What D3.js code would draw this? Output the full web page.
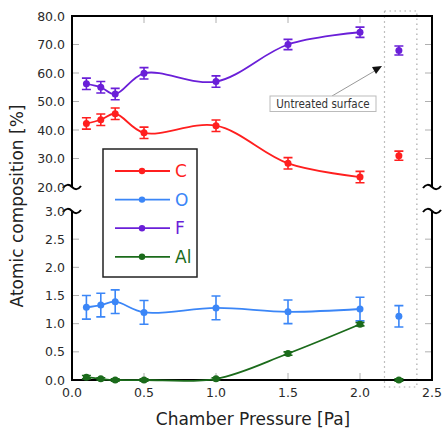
<!DOCTYPE html>
<html><head><meta charset="utf-8">
<script src="https://cdn.jsdelivr.net/npm/d3@7"></script>
<style>body{margin:0;background:#fff}svg{display:block}</style>
</head><body><svg id="c" width="447" height="432"></svg>
<script>
const pressures = [0.1, 0.2, 0.3, 0.5, 1.0, 1.5, 2.0];
const untreatedX = 2.27;
const C  = [42.3, 43.6, 45.7, 39.0, 41.5, 28.3, 23.5];
const Cerr = [2, 2, 2, 2, 2, 2, 2];
const Cun = 31.0, CunErr = 1.6;
const F  = [56.2, 55.0, 52.6, 59.9, 57.0, 70.0, 74.3];
const Ferr = [2, 2, 2, 2, 2, 1.8, 1.8];
const Fun = 67.9, FunErr = 1.6;
const O  = [1.29, 1.33, 1.39, 1.20, 1.28, 1.21, 1.26];
const Oerr = [0.21, 0.21, 0.21, 0.21, 0.21, 0.21, 0.21];
const Oun = 1.13, OunErr = 0.19;
const Al = [0.05, 0.02, 0.0, 0.0, 0.02, 0.47, 0.99];
const Alerr = [0.03, 0.02, 0.02, 0.02, 0.02, 0.03, 0.03];
const Alun = 0.0, AlunErr = 0.02;
const xTicks = [0, 0.5, 1.0, 1.5, 2.0, 2.5];
const yTopTicks = [20, 30, 40, 50, 60, 70, 80];
const yBotTicks = [0, 0.5, 1.0, 1.5, 2.0, 2.5, 3.0];
const legendLabels = ["C", "O", "F", "Al"];

const col = {C:"#ff1f1f", O:"#3b86f7", F:"#6a1fd8", Al:"#1b6b1b"};
const svg = d3.select("#c");
const L = 72, R = 432, T = 16, TB = 187, BT = 211, B = 380;
const x = d3.scaleLinear().domain([0, 2.5]).range([L, R]);
const yT = d3.scaleLinear().domain([20, 80]).range([TB, T]);
const yB = d3.scaleLinear().domain([0, 3]).range([B, BT]);
const font = "DejaVu Sans, Verdana, sans-serif";

// dotted untreated box
svg.append("rect").attr("x", x(2.17)).attr("y", 11).attr("width", x(2.395)-x(2.17)).attr("height", 387-11)
  .attr("fill","none").attr("stroke","#aaa").attr("stroke-width",1.2).attr("stroke-dasharray","1.5,3.5");

// ticks (gray, inward)
const tk = svg.append("g").attr("stroke","#b0b0b0").attr("stroke-width",1);
xTicks.slice(1,-1).forEach(v=>{
  tk.append("line").attr("x1",x(v)).attr("x2",x(v)).attr("y1",B).attr("y2",B-7);
  tk.append("line").attr("x1",x(v)).attr("x2",x(v)).attr("y1",T).attr("y2",T+7);
});
yTopTicks.slice(1,-1).forEach(v=>{
  tk.append("line").attr("x1",L).attr("x2",L+7).attr("y1",yT(v)).attr("y2",yT(v));
  tk.append("line").attr("x1",R).attr("x2",R-7).attr("y1",yT(v)).attr("y2",yT(v));
});
yBotTicks.slice(1,-1).forEach(v=>{
  tk.append("line").attr("x1",L).attr("x2",L+7).attr("y1",yB(v)).attr("y2",yB(v));
  tk.append("line").attr("x1",R).attr("x2",R-7).attr("y1",yB(v)).attr("y2",yB(v));
});

// frame
const fr = svg.append("g").attr("stroke","#000").attr("stroke-width",2).attr("fill","none");
fr.append("path").attr("d",`M${L},${TB}V${T}H${R}V${TB}`);
fr.append("path").attr("d",`M${L},${BT}V${B}H${R}V${BT}`);
// break squiggles
function squig(cx, cy){
  fr.append("path").attr("d",`M${cx-9},${cy+1}C${cx-6},${cy-3} ${cx-3},${cy-3} ${cx},${cy}S${cx+6},${cy+3} ${cx+9},${cy-1}`)
    .attr("stroke-width",2);
}
squig(L, TB); squig(L, BT); squig(R, TB); squig(R, BT);

// tick labels
const lab = svg.append("g").attr("font-family",font).attr("font-size",12.5).attr("fill","#2a2a2a");
yTopTicks.forEach(v=>lab.append("text").attr("x",L-7).attr("y",yT(v)).attr("dy","0.36em").attr("text-anchor","end").text(v.toFixed(1)));
yBotTicks.forEach(v=>lab.append("text").attr("x",L-7).attr("y",yB(v)).attr("dy","0.36em").attr("text-anchor","end").text(v.toFixed(1)));
xTicks.forEach(v=>lab.append("text").attr("x",x(v)).attr("y",B+17).attr("text-anchor","middle").text(v.toFixed(1)));

svg.append("text").attr("x",253).attr("y",425).attr("text-anchor","middle")
  .attr("font-family",font).attr("font-size",17).attr("fill","#222").text("Chamber Pressure [Pa]");
svg.append("text").attr("transform","translate(23,206) rotate(-90)").attr("text-anchor","middle")
  .attr("font-family",font).attr("font-size",17).attr("fill","#222").text("Atomic composition [%]");

// series
const curve = d3.curveCatmullRom.alpha(0.5);
function series(vals, errs, un, unErr, y, c, r){
  const g = svg.append("g");
  const pts = pressures.map((p,i)=>({x:p, y:vals[i], e:errs[i]}));
  g.append("path").datum(pts).attr("fill","none").attr("stroke",c).attr("stroke-width",1.8)
    .attr("d", d3.line().x(d=>x(d.x)).y(d=>y(d.y)).curve(curve));
  const all = pts.concat([{x:untreatedX, y:un, e:unErr}]);
  all.forEach(d=>{
    const px = x(d.x), y1 = y(d.y+d.e), y2 = y(d.y-d.e);
    g.append("path").attr("d",`M${px},${y1}V${y2}M${px-4.5},${y1}H${px+4.5}M${px-4.5},${y2}H${px+4.5}`)
      .attr("stroke",c).attr("stroke-width",1.6).attr("fill","none");
    g.append("circle").attr("cx",px).attr("cy",y(d.y)).attr("r",r).attr("fill",c);
  });
}
series(C, Cerr, Cun, CunErr, yT, col.C, 3.5);
series(F, Ferr, Fun, FunErr, yT, col.F, 3.5);
series(O, Oerr, Oun, OunErr, yB, col.O, 3.5);
series(Al, Alerr, Alun, AlunErr, yB, col.Al, 3.5);

// annotation
svg.append("line").attr("x1",332).attr("y1",96).attr("x2",378).attr("y2",69)
  .attr("stroke","#999").attr("stroke-width",1);
svg.append("path").attr("d","M382,66 L372,67 L376,74 Z").attr("fill","#111");
svg.append("rect").attr("x",270).attr("y",96).attr("width",106).attr("height",15.5)
  .attr("fill","#fff").attr("stroke","#bbb").attr("stroke-width",1);
svg.append("text").attr("x",323).attr("y",108).attr("text-anchor","middle")
  .attr("font-family","DejaVu Sans Condensed, DejaVu Sans, sans-serif").attr("font-size",11.5)
  .attr("fill","#333").text("Untreated surface");

// legend
const lg = svg.append("g");
lg.append("rect").attr("x",103).attr("y",149).attr("width",94).attr("height",128)
  .attr("fill","#fff").attr("stroke","#222").attr("stroke-width",1.5);
const lcols = [col.C, col.O, col.F, col.Al];
legendLabels.forEach((t,i)=>{
  const yy = 171 + i*28.6;
  lg.append("line").attr("x1",115).attr("x2",170).attr("y1",yy).attr("y2",yy).attr("stroke",lcols[i]).attr("stroke-width",1.8);
  lg.append("circle").attr("cx",142).attr("cy",yy).attr("r",3.2).attr("fill",lcols[i]);
  lg.append("text").attr("x",175).attr("y",yy).attr("dy","0.36em").attr("font-family",font).attr("font-size",17)
    .attr("fill",lcols[i]).text(t);
});
</script></body></html>
